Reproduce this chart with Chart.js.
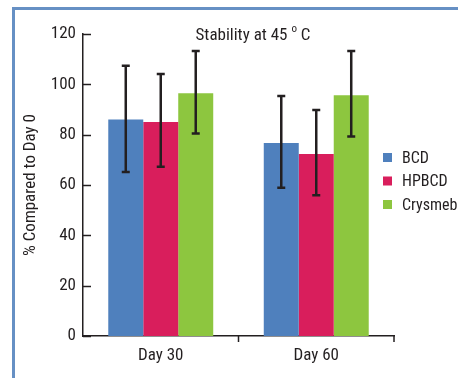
<!DOCTYPE html>
<html>
<head>
<meta charset="utf-8">
<script src="https://cdn.jsdelivr.net/npm/chart.js@4"></script>
<style>
  html, body { margin: 0; padding: 0; background: #fff; }
  #wrap { width: 458px; height: 378px; }
</style>
</head>
<body>
<div id="wrap"><canvas id="graf" width="458" height="378"></canvas></div>
<script>
// podatki
const dnevi = ['Day 30', 'Day 60'];
const bcd = [86, 76.7];
const hpbcd = [85, 72.3];
const crysmeb = [96.5, 95.7];
// napake (spodaj / zgoraj)
const bcd_napaka = [[65.2, 107.4], [58.9, 95.4]];
const hpbcd_napaka = [[67.3, 104.1], [55.9, 89.8]];
const crysmeb_napaka = [[80.5, 113.2], [79.3, 113.2]];
const y_oznake = [0, 20, 40, 60, 80, 100, 120];

const pisava = "'Liberation Sans Narrow', 'Arial Narrow', 'Roboto Condensed', sans-serif";
const barva_pisave = '#231f20';
const barva_okvirja = '#6690c4';
const modra = '#4f80bd';
const roza = '#d91e5c';
const zelena = '#8dc63f';

const napake = [bcd_napaka, hpbcd_napaka, crysmeb_napaka];

const okvir = {
    id: 'okvir',
    beforeDraw(chart) {
        const c = chart.ctx;
        c.save();
        c.strokeStyle = barva_okvirja;
        c.lineWidth = 3;
        c.beginPath();
        c.moveTo(458, 8.5);
        c.lineTo(13.5, 8.5);
        c.lineTo(13.5, 378);
        c.stroke();
        c.restore();
    },
    afterDraw(chart) {
        const c = chart.ctx;
        const x = chart.scales.x;
        const y = chart.scales.y;
        c.save();
        c.strokeStyle = barva_pisave;
        c.lineWidth = 1.5;
        // y oznake navznoter
        y_oznake.forEach(v => {
            const py = Math.round(y.getPixelForValue(v)) + 0.5;
            c.beginPath();
            c.moveTo(x.left, py);
            c.lineTo(x.left + 8, py);
            c.stroke();
        });
        // x oznake navzven
        const meja = [(x.getPixelForTick(0) + x.getPixelForTick(1)) / 2, x.right];
        meja.forEach(px => {
            c.beginPath();
            c.moveTo(px, y.bottom);
            c.lineTo(px, y.bottom + 6);
            c.stroke();
        });

        // naslov
        const del1 = 'Stability at 45 ';
        const del2 = 'o';
        const del3 = ' C';
        c.fillStyle = barva_pisave;
        c.textBaseline = 'alphabetic';
        c.font = '17px ' + pisava;
        const w1 = c.measureText(del1).width;
        const w3 = c.measureText(del3).width;
        c.font = '11px ' + pisava;
        const w2 = c.measureText(del2).width;
        let zx = 253 - (w1 + w2 + w3) / 2;
        c.font = '17px ' + pisava;
        c.fillText(del1, zx, 40);
        c.font = '11px ' + pisava;
        c.fillText(del2, zx + w1, 32);
        c.font = '17px ' + pisava;
        c.fillText(del3, zx + w1 + w2, 40);

        // legenda
        chart.data.datasets.forEach((ds, i) => {
            const ly = 153 + i * 23.5;
            c.fillStyle = ds.backgroundColor;
            c.fillRect(383, ly, 9, 9);
            c.fillStyle = barva_pisave;
            c.font = '16px ' + pisava;
            c.fillText(ds.label, 402, ly + 9.5);
        });
        c.restore();
    }
};

const napake_plugin = {
    id: 'napake',
    afterDatasetsDraw(chart) {
        const c = chart.ctx;
        const y = chart.scales.y;
        c.save();
        c.strokeStyle = '#231f20';
        c.lineWidth = 2.5;
        chart.data.datasets.forEach((ds, i) => {
            const meta = chart.getDatasetMeta(i);
            meta.data.forEach((bar, j) => {
                const [lo, hi] = napake[i][j];
                const py1 = y.getPixelForValue(lo);
                const py2 = y.getPixelForValue(hi);
                c.beginPath();
                c.moveTo(bar.x, py1);
                c.lineTo(bar.x, py2);
                c.moveTo(bar.x - 4, py1);
                c.lineTo(bar.x + 4, py1);
                c.moveTo(bar.x - 4, py2);
                c.lineTo(bar.x + 4, py2);
                c.stroke();
            });
        });
        c.restore();
    }
};

const graf = new Chart(document.getElementById('graf').getContext('2d'), {
    type: 'bar',
    data: {
        labels: dnevi,
        datasets: [
            { label: 'BCD', data: bcd, backgroundColor: modra },
            { label: 'HPBCD', data: hpbcd, backgroundColor: roza },
            { label: 'Crysmeb', data: crysmeb, backgroundColor: zelena }
        ]
    },
    options: {
        responsive: false,
        animation: false,
        layout: { padding: { left: 13, right: 64, top: 34, bottom: 0 } },
        datasets: { bar: { categoryPercentage: 0.675, barPercentage: 1.0 } },
        plugins: {
            legend: { display: false },
            tooltip: { enabled: false }
        },
        scales: {
            x: {
                afterFit(s) { s.height = 42; },
                grid: { display: false, drawTicks: false },
                border: { display: true, color: barva_pisave, width: 1.5 },
                ticks: { padding: 10, color: barva_pisave, font: { size: 17, family: pisava } }
            },
            y: {
                min: 0,
                max: 120,
                afterFit(s) { s.width = 70; },
                afterBuildTicks(s) { s.ticks = y_oznake.map(v => ({ value: v })); },
                grid: { display: false, drawTicks: false },
                border: { display: true, color: barva_pisave, width: 1.5 },
                ticks: { padding: 7, color: barva_pisave, font: { size: 17, family: pisava } },
                title: {
                    display: true,
                    text: '% Compared to Day 0',
                    color: barva_pisave,
                    font: { size: 17, family: pisava },
                    padding: { top: 8, bottom: 0 }
                }
            }
        }
    },
    plugins: [okvir, napake_plugin]
});
</script>
</body>
</html>
